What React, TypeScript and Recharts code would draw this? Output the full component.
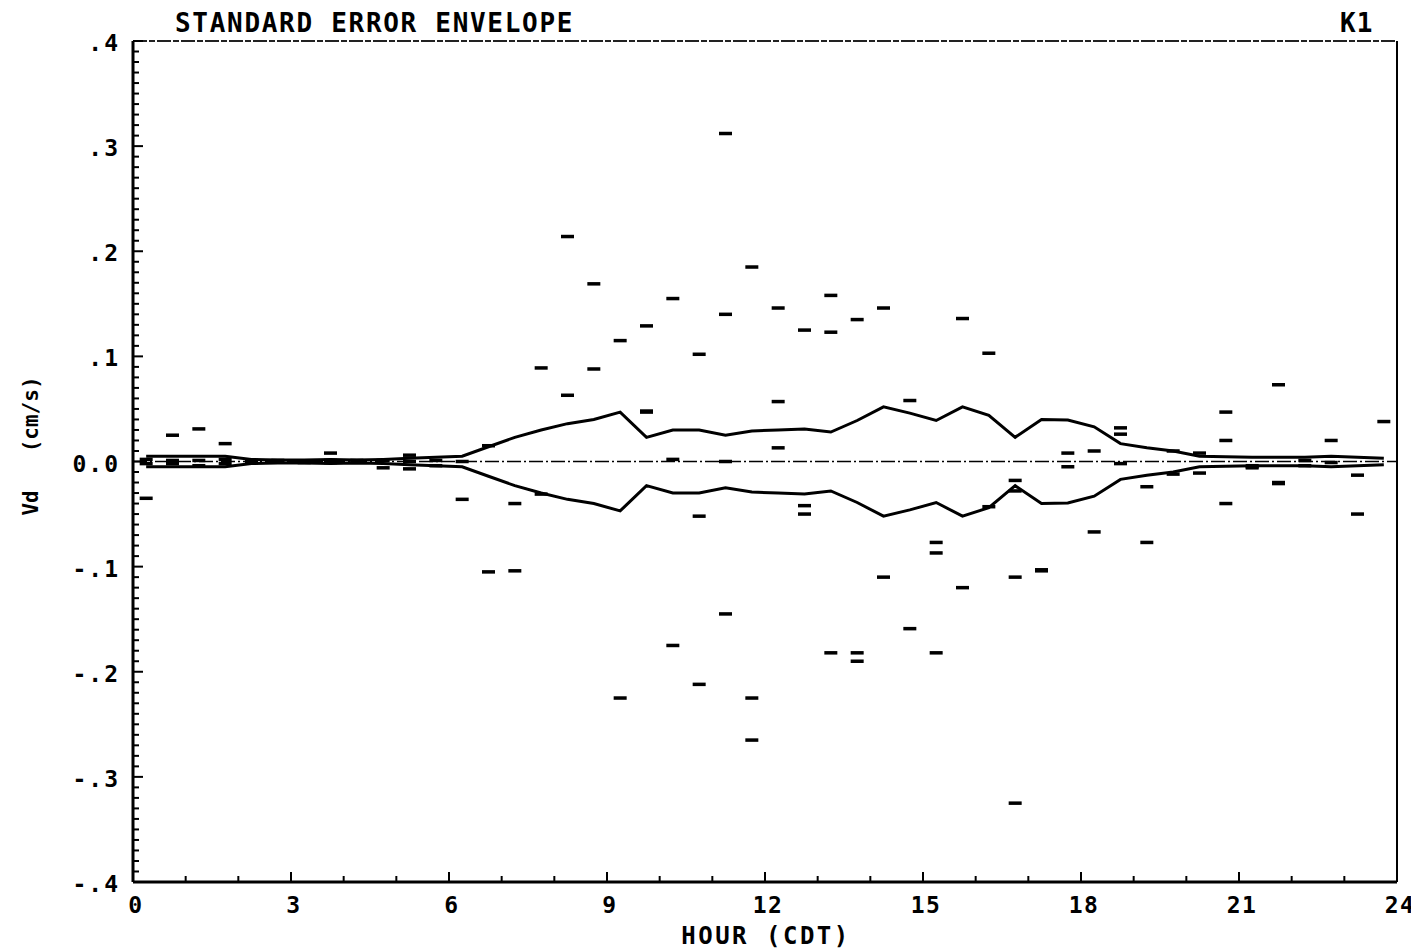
import React from "react";
import {
  ComposedChart,
  Line,
  Scatter,
  XAxis,
  YAxis,
  ReferenceLine,
} from "recharts";

// half-hour bin centres (hour, CDT)
const binHours = [
  0.25, 0.75, 1.25, 1.75, 2.25, 2.75, 3.25, 3.75, 4.25, 4.75, 5.25, 5.75,
  6.25, 6.75, 7.25, 7.75, 8.25, 8.75, 9.25, 9.75, 10.25, 10.75, 11.25, 11.75,
  12.25, 12.75, 13.25, 13.75, 14.25, 14.75, 15.25, 15.75, 16.25, 16.75, 17.25,
  17.75, 18.25, 18.75, 19.25, 19.75, 20.25, 20.75, 21.25, 21.75, 22.25, 22.75,
  23.25, 23.75,
];

// standard error of Vd per bin (cm/s)
const stdError = [
  0.005, 0.005, 0.005, 0.005, 0.002, 0.0015, 0.0015, 0.002, 0.0015, 0.002,
  0.003, 0.004, 0.005, 0.014, 0.023, 0.03, 0.036, 0.04, 0.047, 0.023, 0.03,
  0.03, 0.025, 0.029, 0.03, 0.031, 0.028, 0.039, 0.052, 0.046, 0.039, 0.052,
  0.044, 0.023, 0.04, 0.0395, 0.033, 0.017, 0.013, 0.01, 0.005, 0.0045, 0.004,
  0.004, 0.004, 0.005, 0.004, 0.003,
];

// individual Vd observations (hour, value)
const obsHours = [
  0.25, 0.25, 0.25, 0.75, 0.75, 0.75, 1.25, 1.25, 1.25, 1.75, 1.75, 1.75,
  2.25, 2.25, 2.75, 2.75, 3.25, 3.25, 3.75, 3.75, 3.75, 4.25, 4.25, 4.75,
  4.75, 5.25, 5.25, 5.25, 5.75, 5.75, 6.25, 6.25, 6.75, 6.75, 7.25, 7.25,
  7.75, 7.75, 8.25, 8.25, 8.75, 8.75, 9.25, 9.25, 9.75, 9.75, 9.75, 10.25,
  10.25, 10.25, 10.75, 10.75, 10.75, 11.25, 11.25, 11.25, 11.25, 11.75, 11.75,
  11.75, 12.25, 12.25, 12.25, 12.75, 12.75, 12.75, 13.25, 13.25, 13.25, 13.75,
  13.75, 13.75, 14.25, 14.25, 14.75, 14.75, 15.25, 15.25, 15.25, 15.75, 15.75,
  16.25, 16.25, 16.75, 16.75, 16.75, 16.75, 17.25, 17.25, 17.75, 17.75, 18.25,
  18.25, 18.75, 18.75, 18.75, 19.25, 19.25, 19.75, 19.75, 20.25, 20.25, 20.75,
  20.75, 20.75, 21.25, 21.25, 21.25, 21.75, 21.75, 21.75, 22.25, 22.25, 22.75,
  22.75, 23.25, 23.25, 23.75,
];
const obsValues = [
  -0.035, 0.002, -0.002, 0.025, 0.001, -0.002, 0.031, -0.004, 0.001, 0.017,
  0.002, -0.002, 0.001, -0.001, 0.0, 0.001, 0.0, -0.001, 0.008, 0.001, -0.001,
  0.001, 0.0, -0.006, 0.001, 0.006, -0.007, 0.0, -0.004, 0.001, -0.036, 0.0,
  0.015, -0.105, -0.04, -0.104, 0.089, -0.031, 0.214, 0.063, 0.169, 0.088,
  0.115, -0.225, 0.129, 0.048, 0.047, 0.155, 0.002, -0.175, 0.102, -0.052,
  -0.212, 0.312, 0.14, 0.0, -0.145, 0.185, -0.225, -0.265, 0.146, 0.057, 0.013,
  0.125, -0.042, -0.05, 0.158, 0.123, -0.182, 0.135, -0.182, -0.19, 0.146,
  -0.11, 0.058, -0.159, -0.077, -0.087, -0.182, 0.136, -0.12, 0.103, -0.043,
  -0.018, -0.028, -0.11, -0.325, -0.104, -0.103, 0.008, -0.005, 0.01, -0.067,
  0.032, 0.026, -0.002, -0.024, -0.077, 0.01, -0.012, 0.008, -0.011, 0.047,
  0.02, -0.04, -0.004, -0.006, -0.005, 0.073, -0.02, -0.021, 0.001, -0.004,
  0.02, -0.001, -0.013, -0.05, 0.038,
];

const FONT = "'DejaVu Sans Mono', monospace";

const upper = binHours.map((h, i) => ({ h, v: stdError[i] }));
const lower = binHours.map((h, i) => ({ h, v: -stdError[i] }));
const obs = obsHours.map((h, i) => ({ h, v: obsValues[i] }));

const yTicks: number[] = [];
for (let k = -40; k <= 40; k++) yTicks.push(k / 100);
const xTicks: number[] = [];
for (let k = 0; k <= 24; k++) xTicks.push(k);

const yLabel = (v: number) => {
  const k = Math.round(v * 10);
  if (k === 0) return "0.0";
  return (k < 0 ? "-." : ".") + Math.abs(k);
};

const YTick = (props: any) => {
  const { x, y, payload } = props;
  const k = Math.round(payload.value * 100);
  const major = k % 10 === 0;
  return (
    <g>
      <line x1={x} x2={x + (major ? 10 : 6)} y1={y} y2={y} stroke="#000" strokeWidth={2} />
      {major && (
        <text x={x - 13} y={y} dy={10} textAnchor="end" fontFamily={FONT}
          fontWeight="bold" fontSize={23} letterSpacing={2} fill="#000">
          {yLabel(payload.value)}
        </text>
      )}
    </g>
  );
};

const XTick = (props: any) => {
  const { x, y, payload } = props;
  const major = payload.value % 3 === 0;
  return (
    <g>
      <line x1={x} x2={x} y1={y} y2={y - (major ? 10 : 6)} stroke="#000" strokeWidth={2} />
      {major && (
        <text x={x + 3} y={y + 31} textAnchor="middle" fontFamily={FONT}
          fontWeight="bold" fontSize={23} letterSpacing={1.5} fill="#000">
          {payload.value}
        </text>
      )}
    </g>
  );
};

const Dash = (props: any) => (
  <rect x={props.cx - 6.5} y={props.cy - 1.75} width={13} height={3.5} fill="#000" />
);

export default function App() {
  return (
    <div style={{ position: "relative", width: 1411, height: 942 }}>
      <ComposedChart
        width={1411}
        height={942}
        margin={{ top: 33, right: 22, left: 65, bottom: 8 }}
      >
        <XAxis
          dataKey="h"
          type="number"
          domain={[0, 24]}
          ticks={xTicks}
          interval={0}
          tick={<XTick />}
          tickLine={false}
          tickSize={0}
          tickMargin={0}
          height={60}
          axisLine={{ stroke: "#000", strokeWidth: 3 }}
          allowDataOverflow
        />
        <YAxis
          dataKey="v"
          type="number"
          domain={[-0.4, 0.4]}
          ticks={yTicks}
          interval={0}
          tick={<YTick />}
          tickLine={false}
          tickSize={0}
          tickMargin={0}
          width={60}
          axisLine={{ stroke: "#000", strokeWidth: 3 }}
          allowDataOverflow
        />
        <ReferenceLine y={0.4} stroke="#222" strokeWidth={2} strokeDasharray="14 2 6 2" />
        <ReferenceLine x={24} stroke="#000" strokeWidth={2} />
        <ReferenceLine y={0} stroke="#000" strokeWidth={1.5} strokeDasharray="14 3 2 3" />
        <Line data={upper} dataKey="v" type="linear" stroke="#000" strokeWidth={3}
          dot={false} isAnimationActive={false} />
        <Line data={lower} dataKey="v" type="linear" stroke="#000" strokeWidth={3}
          dot={false} isAnimationActive={false} />
        <Scatter data={obs} dataKey="v" shape={<Dash />} isAnimationActive={false} />
      </ComposedChart>
      <svg
        width={1411}
        height={942}
        style={{ position: "absolute", left: 0, top: 0, pointerEvents: "none" }}
      >
        <text x={167} y={24} fontFamily={FONT} fontWeight="bold" fontSize={26}
          letterSpacing={1.7} fill="#000">
          STANDARD ERROR ENVELOPE
        </text>
        <text x={1332} y={24} fontFamily={FONT} fontWeight="bold" fontSize={26}
          letterSpacing={1} fill="#000">
          K1
        </text>
        <text x={758} y={936} textAnchor="middle" fontFamily={FONT} fontWeight="bold"
          fontSize={24} letterSpacing={2.5} fill="#000">
          HOUR (CDT)
        </text>
        <text x={30} y={438} textAnchor="middle" transform="rotate(-90 30 438)"
          fontFamily={FONT} fontWeight="bold" fontSize={21} letterSpacing={0}
          fill="#000" style={{ whiteSpace: "pre" }}>
          {"Vd   (cm/s)"}
        </text>
      </svg>
    </div>
  );
}
